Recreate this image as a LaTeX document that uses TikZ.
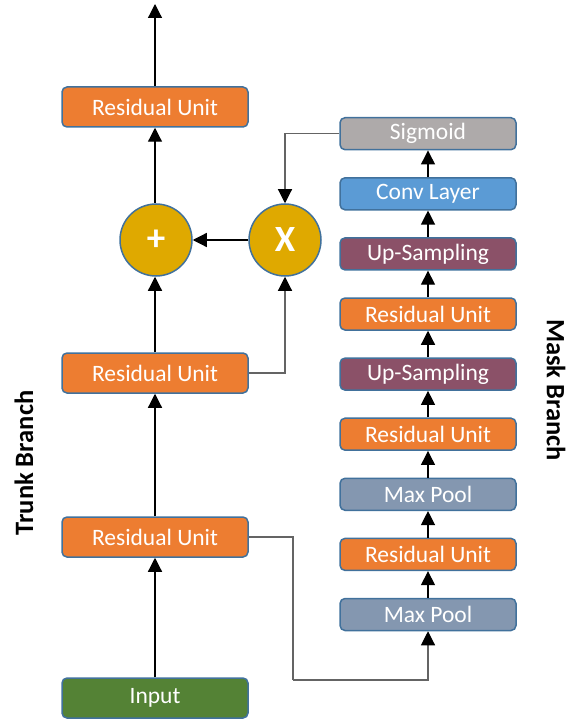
\documentclass[tikz,border=0pt]{standalone}
\usepackage{fontspec}
\setmainfont{Carlito}
\usetikzlibrary{positioning,arrows.meta}
\definecolor{edgeblue}{RGB}{65,113,156}
\definecolor{ruorange}{RGB}{237,125,49}
\definecolor{ingreen}{RGB}{84,130,53}
\definecolor{opgold}{RGB}{223,169,0}
\definecolor{sigray}{RGB}{174,170,170}
\definecolor{convblue}{RGB}{91,155,213}
\definecolor{upplum}{RGB}{139,81,104}
\definecolor{poolgray}{RGB}{132,151,176}
\definecolor{linegray}{RGB}{100,100,100}

\begin{document}
\begin{tikzpicture}[x=1pt,y=-1pt,
	unit/.style={draw=edgeblue, line width=1.5pt, rounded corners=5pt, text=white,
		font=\fontsize{23.5}{26}\selectfont, minimum width=186pt, minimum height=40pt, inner sep=0pt},
	maskunit/.style={unit, minimum width=176pt, minimum height=32pt},
	op/.style={circle, draw=edgeblue, line width=1.5pt, fill=opgold, minimum size=72pt,
		inner sep=0pt, text=white, font=\fontsize{37}{38}\selectfont\bfseries},
	arr/.style={line width=1.2pt, -{Triangle[width=14pt,length=14pt,color=black]}},
	link/.style={draw=linegray, line width=1.1pt},
	branch/.style={font=\fontsize{26.5}{28}\selectfont\bfseries}]

	\useasboundingbox (0,0) rectangle (566,719);

	% Trunk branch
	\node[unit, fill=ingreen] (input) at (155,698) {Input};
	\node[unit, fill=ruorange] (ru1) at (155,537) {Residual Unit};
	\node[unit, fill=ruorange] (ru2) at (155,373) {Residual Unit};
	\node[op] (plus) at (156,240) {+};
	\node[op] (mult) at (285,240) {X};
	\node[unit, fill=ruorange] (ru3) at (155,107) {Residual Unit};
	\coordinate (out) at (155,4);

	% Mask branch
	\node[maskunit, fill=poolgray] (mp1) at (428,614.5) {Max Pool};
	\node[maskunit, fill=ruorange, above=26.6pt of mp1] (rm1) {Residual Unit};
	\node[maskunit, fill=poolgray, above=26.6pt of rm1] (mp2) {Max Pool};
	\node[maskunit, fill=ruorange, above=26.6pt of mp2] (rm2) {Residual Unit};
	\node[maskunit, fill=upplum, above=26.6pt of rm2] (up1) {Up-Sampling};
	\node[maskunit, fill=ruorange, above=26.6pt of up1] (rm3) {Residual Unit};
	\node[maskunit, fill=upplum, above=26.6pt of rm3] (up2) {Up-Sampling};
	\node[maskunit, fill=convblue, above=26.6pt of up2] (conv) {Conv Layer};
	\node[maskunit, fill=sigray, above=26.6pt of conv] (sig) {Sigmoid};

	% Labels
	\node[branch, rotate=90] (trunk) at (24,463) {Trunk Branch};
	\node[branch, rotate=-90] (masklabel) at (556,390) {Mask Branch};

	% Trunk arrows
	\draw[arr] (input) -- (ru1);
	\draw[arr] (ru1) -- (ru2);
	\draw[arr] (ru2.north) -- (ru2.north |- plus.south);
	\draw[arr] (plus.north -| ru3) -- (ru3.south);
	\draw[arr] (ru3) -- (out);
	\draw[arr] (mult) -- (plus);

	% Mask arrows
	\foreach \a/\b in {mp1/rm1, rm1/mp2, mp2/rm2, rm2/up1, up1/rm3, rm3/up2, up2/conv, conv/sig}
		\draw[arr] (\a) -- (\b);

	% Skip connections
	\coordinate (bend) at (293,680);
	\draw[link] (ru1.east) -| (bend);
	\draw[arr, link] (bend) -| (mp1.south);
	\draw[arr, link] (ru2.east) -| (mult.south);
	\draw[arr, link] (sig.west) -| (mult.north);

\end{tikzpicture}
\end{document}
